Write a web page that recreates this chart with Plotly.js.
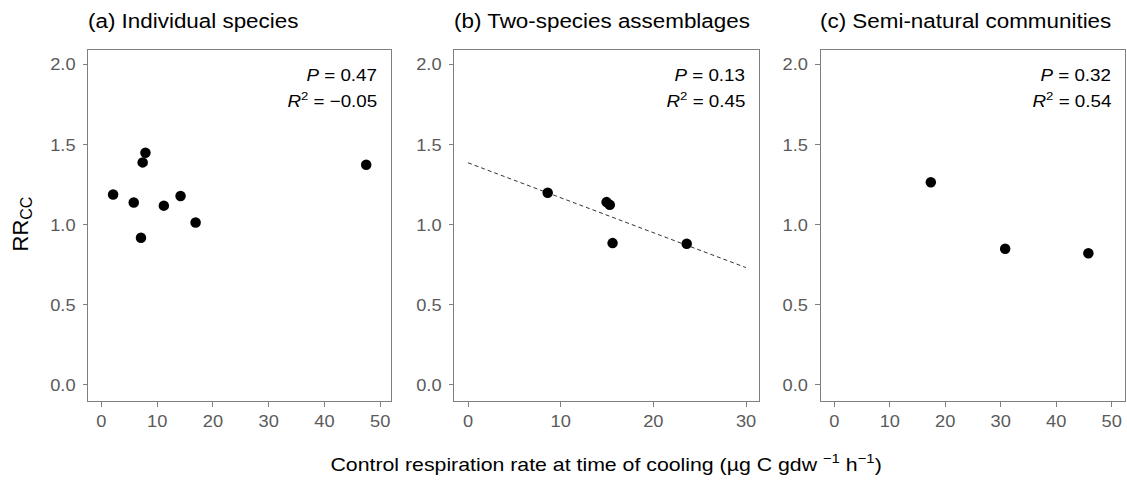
<!DOCTYPE html>
<html>
<head>
<meta charset="utf-8">
<script src="https://cdn.plot.ly/plotly-3.0.1.min.js"></script>
<style>html,body{margin:0;padding:0;background:#fff;}#chart{width:1127px;height:481px;}</style>
</head>
<body>
<div id="chart"></div>
<script>
// ---- data ----
var panelTitles = ['(a) Individual species', '(b) Two-species assemblages', '(c) Semi-natural communities'];
var aX = [2.1, 5.8, 7.1, 7.4, 7.9, 11.2, 14.2, 16.9, 47.5];
var aY = [1.19, 1.14, 0.92, 1.39, 1.45, 1.12, 1.18, 1.015, 1.375];
var bX = [8.6, 14.95, 15.3, 15.6, 23.6];
var bY = [1.20, 1.142, 1.125, 0.886, 0.882];
var cX = [17.4, 30.8, 45.8];
var cY = [1.266, 0.851, 0.823];
var bFitRange = [0, 30];
var pLabels = ['0.47', '0.13', '0.32'];
var r2Labels = ['\u22120.05', '0.45', '0.54'];
var yTicks = [0, 0.5, 1.0, 1.5, 2.0];
var xTicksAC = [0, 10, 20, 30, 40, 50];
var xTicksB = [0, 10, 20, 30];
var xTitle = 'Control respiration rate at time of cooling (\u00b5g C gdw <sup>\u22121</sup> h<sup>\u22121</sup>)';
var yTitle = 'RR<sub><span style="font-size:16px">CC</span></sub>';

// ---- linear fit for panel b ----
function linfit(x, y) {
  var n = x.length, mx = 0, my = 0;
  for (var i = 0; i < n; i++) { mx += x[i]; my += y[i]; }
  mx /= n; my /= n;
  var sxy = 0, sxx = 0;
  for (var j = 0; j < n; j++) { sxy += (x[j] - mx) * (y[j] - my); sxx += (x[j] - mx) * (x[j] - mx); }
  var slope = sxy / sxx;
  return { slope: slope, intercept: my - slope * mx };
}
var fit = linfit(bX, bY);
var fitY = bFitRange.map(function (v) { return fit.intercept + fit.slope * v; });

var FONT = 'Liberation Sans, Arial, sans-serif';
var STRETCH = 1.12;
var marker = { color: '#000', size: 10.5, line: { width: 0 } };

var traces = [
  { x: aX, y: aY, type: 'scatter', mode: 'markers', marker: marker, xaxis: 'x', yaxis: 'y' },
  { x: bFitRange, y: fitY, type: 'scatter', mode: 'lines', line: { color: '#333', width: 1, dash: '4px,3px' }, xaxis: 'x2', yaxis: 'y2' },
  { x: bX, y: bY, type: 'scatter', mode: 'markers', marker: marker, xaxis: 'x2', yaxis: 'y2' },
  { x: cX, y: cY, type: 'scatter', mode: 'markers', marker: marker, xaxis: 'x3', yaxis: 'y3' }
];

var W = 1127, H = 481;
var panelsPx = [[88.3, 391.3], [454.3, 759], [820.7, 1125]];
var topPx = 50, botPx = 401;
var yDom = [1 - botPx / H, 1 - topPx / H];
var tickFont = { family: FONT, size: 16.3, color: '#5a5a5a' };

function xaxis(i, range, ticks) {
  return {
    domain: [panelsPx[i][0] / W, panelsPx[i][1] / W],
    anchor: i === 0 ? 'y' : 'y' + (i + 1),
    range: range, tickvals: ticks, ticktext: ticks.map(String),
    showgrid: false, zeroline: false,
    showline: true, mirror: true, linecolor: '#7f7f7f', linewidth: 1,
    ticks: 'outside', ticklen: 4.5, tickwidth: 1, tickcolor: '#7f7f7f',
    ticklabelstandoff: 1,
    tickfont: tickFont
  };
}
function yaxis(i) {
  return {
    domain: yDom,
    anchor: i === 0 ? 'x' : 'x' + (i + 1),
    range: [-0.1, 2.092], tickvals: yTicks, ticktext: yTicks.map(function (v) { return v.toFixed(1); }),
    showgrid: false, zeroline: false,
    showline: true, mirror: true, linecolor: '#7f7f7f', linewidth: 1,
    ticks: 'outside', ticklen: 4.5, tickwidth: 1, tickcolor: '#7f7f7f',
    ticklabelstandoff: 4,
    tickfont: tickFont
  };
}

var annotations = [];
for (var i = 0; i < 3; i++) {
  annotations.push({
    text: panelTitles[i], xref: 'paper', yref: 'paper',
    x: (panelsPx[i][0] - 2.5) / W, y: 1 - 21 / H, xanchor: 'left', yanchor: 'middle', align: 'left',
    showarrow: false, font: { family: FONT, size: 20, color: '#000' }
  });
  annotations.push({
    text: '<i>P</i> = ' + pLabels[i], xref: 'paper', yref: 'paper',
    x: (panelsPx[i][1] - 12) / W, y: 1 - 75 / H, xanchor: 'right', yanchor: 'middle', align: 'right',
    showarrow: false, font: { family: FONT, size: 16.8, color: '#000' }
  });
  annotations.push({
    text: '<i>R</i><sup>2</sup> = ' + r2Labels[i], xref: 'paper', yref: 'paper',
    x: (panelsPx[i][1] - 12) / W, y: 1 - 99.5 / H, xanchor: 'right', yanchor: 'middle', align: 'right',
    showarrow: false, font: { family: FONT, size: 16.8, color: '#000' }
  });
}
annotations.push({
  text: xTitle,
  xref: 'paper', yref: 'paper', x: 606 / W, y: 1 - 463 / H, xanchor: 'center', yanchor: 'middle',
  showarrow: false, font: { family: FONT, size: 19, color: '#000' }
});
annotations.push({
  text: yTitle, xref: 'paper', yref: 'paper', x: 21 / W, y: 1 - 224.5 / H,
  xanchor: 'center', yanchor: 'middle', textangle: -90,
  showarrow: false, font: { family: FONT, size: 22, color: '#000' }
});

var layout = {
  width: W, height: H,
  margin: { l: 0, r: 0, t: 0, b: 0 },
  paper_bgcolor: '#fff', plot_bgcolor: '#fff',
  showlegend: false,
  xaxis: xaxis(0, [-2.35, 52.0], xTicksAC),
  xaxis2: xaxis(1, [-1.48, 31.4], xTicksB),
  xaxis3: xaxis(2, [-2.45, 52.4], xTicksAC),
  yaxis: yaxis(0), yaxis2: yaxis(1), yaxis3: yaxis(2),
  annotations: annotations,
  font: { family: FONT }
};

Plotly.newPlot('chart', traces, layout, { staticPlot: true, displayModeBar: false }).then(function (gd) {
  // give every tspan an explicit pixel font size
  gd.querySelectorAll('svg tspan').forEach(function (ts) {
    var fs = window.getComputedStyle(ts).fontSize;
    if (fs) ts.style.fontSize = fs;
  });
  // widen glyphs horizontally, as in the reference rendering
  var yIdx = annotations.length - 1;
  gd.querySelectorAll('svg text').forEach(function (t) {
    var a = t.closest('.annotation');
    if (a && a.getAttribute('data-index') === String(yIdx)) return;
    var len = t.getComputedTextLength();
    if (!len) return;
    t.setAttribute('lengthAdjust', 'spacingAndGlyphs');
    t.setAttribute('textLength', (len * STRETCH).toFixed(2));
  });
});
</script>
</body>
</html>
